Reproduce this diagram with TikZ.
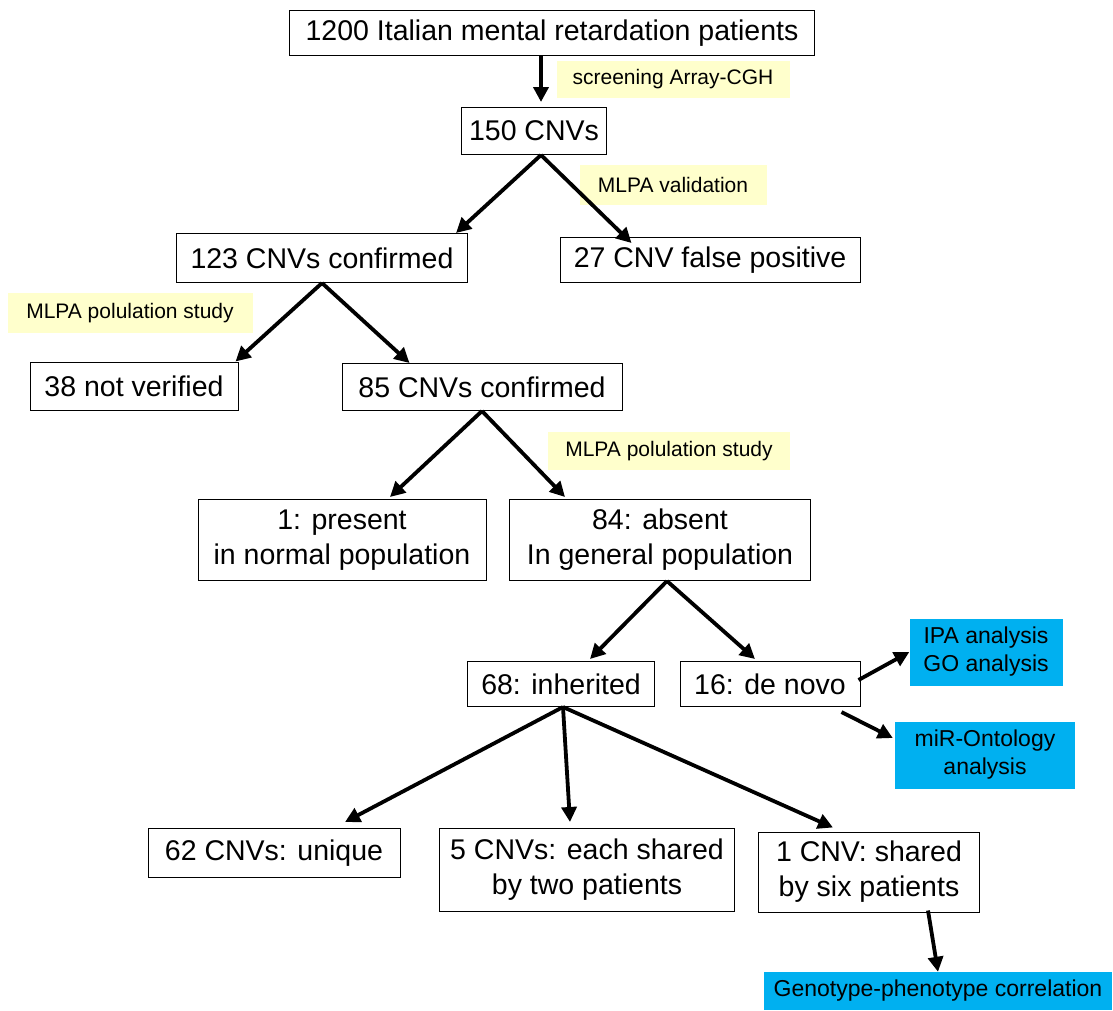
\documentclass[tikz,border=0pt]{standalone}
\usepackage{fontspec}
\setmainfont{Liberation Sans}
\usetikzlibrary{arrows.meta}
\definecolor{notefill}{RGB}{255,255,204}
\definecolor{cyanfill}{RGB}{0,176,240}

\begin{document}
\begin{tikzpicture}[x=1pt,y=-1pt]
\tikzstyle{box}=[draw,line width=1pt,inner sep=0pt,align=center,font=\fontsize{28.5}{35}\selectfont];
\tikzstyle{note}=[fill=notefill,inner sep=0pt,font=\fontsize{21}{24}\selectfont];
\tikzstyle{result}=[fill=cyanfill,inner sep=0pt,align=center,font=\fontsize{23}{28}\selectfont];
\tikzstyle{flow}=[line width=3.8pt,-{Triangle[length=15pt,width=15pt]}];
\useasboundingbox (0,0) rectangle (1113,1010);

\node[box,minimum width=525pt,minimum height=45pt] (pat) at (552,33) {1200 Italian mental retardation patients};
\node[note,minimum width=233pt,minimum height=37pt] (scr) at (673,79) {screening Array-CGH};
\node[box,minimum width=145pt,minimum height=47pt] (c150) at (534,131) {150 CNVs};
\node[note,minimum width=187pt,minimum height=40pt] (val) at (673,185) {MLPA validation};
\node[box,minimum width=291pt,minimum height=49pt] (c123) at (322,258) {123 CNVs confirmed};
\node[box,minimum width=300pt,minimum height=45pt] (fp27) at (710,260) {27 CNV false positive};
\node[note,minimum width=245pt,minimum height=40pt] (pop1) at (130,313) {MLPA polulation study};
\node[box,minimum width=208pt,minimum height=48pt] (nv38) at (134,386) {38 not verified};
\node[box,minimum width=280pt,minimum height=47pt] (c85) at (482,387) {85 CNVs confirmed};
\node[note,minimum width=242pt,minimum height=38pt] (pop2) at (669,451) {MLPA polulation study};
\node[box,minimum width=288pt,minimum height=81pt] (pres) at (342,540) {1: present\\in normal population};
\node[box,minimum width=301pt,minimum height=81pt] (abs) at (660,540) {84: absent\\In general population};
\node[box,minimum width=187pt,minimum height=45pt] (inh) at (561,684) {68: inherited};
\node[box,minimum width=180pt,minimum height=45pt] (dn) at (770,684) {16: de novo};
\node[result,minimum width=153pt,minimum height=67pt] (ipa) at (986,652) {IPA analysis\\GO analysis};
\node[result,minimum width=180pt,minimum height=67pt] (mir) at (985,755) {miR-Ontology\\analysis};
\node[box,minimum width=252pt,minimum height=49pt] (uniq) at (274,853) {62 CNVs: unique};
\node[box,minimum width=295pt,minimum height=83pt] (two) at (587,870) {5 CNVs: each shared\\by two patients};
\node[box,minimum width=221pt,minimum height=80pt] (six) at (869,872) {1 CNV: shared\\by six patients};
\node[result,minimum width=348pt,minimum height=38pt] (gp) at (938,991) {Genotype-phenotype correlation};

% arrows
\draw[flow] ([xshift=-11pt]pat.south) -- ([xshift=7pt,yshift=5pt]c150.north);
\draw[flow] ([xshift=7pt]c150.south) -- ([xshift=-12pt]c123.north east);
\draw[flow] ([xshift=7pt]c150.south) -- ([xshift=72pt,yshift=-6pt]fp27.north west);
\draw[flow] (c123.south) -- ([xshift=-3pt]nv38.north east);
\draw[flow] (c123.south) -- ([xshift=68pt]c85.north west);
\draw[flow] (c85.south) -- ([xshift=48pt,yshift=2pt]pres.north);
\draw[flow] (c85.south) -- ([xshift=56pt,yshift=2pt]abs.north west);
\draw[flow] ([xshift=7pt]abs.south) -- ([xshift=29pt,yshift=2pt]inh.north);
\draw[flow] ([xshift=7pt]abs.south) -- ([xshift=-15pt,yshift=2pt]dn.north);
\draw[flow] ([xshift=-2pt,yshift=4pt]dn.east) -- (ipa.west);
\draw[flow] ([xshift=-19pt,yshift=-5pt]dn.south east) -- ([xshift=-2pt,yshift=17pt]mir.west);
\draw[flow] ([xshift=2pt]inh.south) -- ([xshift=71pt,yshift=6pt]uniq.north);
\draw[flow] ([xshift=2pt]inh.south) -- ([xshift=-17pt,yshift=6pt]two.north);
\draw[flow] ([xshift=2pt]inh.south) -- ([xshift=-36pt,yshift=4pt]six.north);
\draw[flow] ([xshift=59pt,yshift=2pt]six.south) -- (gp.north);
\end{tikzpicture}
\end{document}
